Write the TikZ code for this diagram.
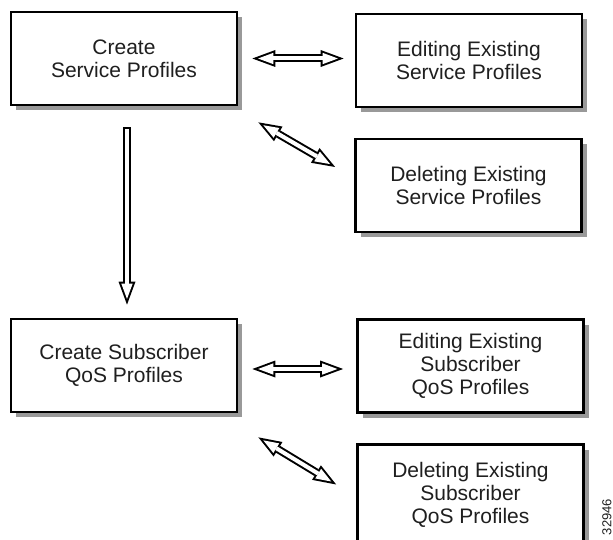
\documentclass[tikz,border=0pt]{standalone}
\usepackage{fontspec}
\setmainfont{Liberation Sans}
\usetikzlibrary{arrows.meta,shadows}
\tikzset{HeadOut/.tip={Triangle[length=23pt,width=17pt,line width=0pt]},
         HeadIn/.tip={Triangle[length=15.2pt,width=11.3pt,line width=0pt]}}
\tikzset{box/.style={draw,line width=2.7pt,minimum width=226pt,minimum height=93pt,
           align=center,fill=white,text=black!88,font=\fontsize{21}{23}\selectfont,
           drop shadow={shadow xshift=5pt,shadow yshift=-5pt,fill=black!40,opacity=1}},
         dblarrow/.style={line width=8pt,HeadOut-HeadOut,
           postaction={draw=white,line width=4pt,shorten <=5.76pt,shorten >=5.76pt,HeadIn-HeadIn}},
         onearrow/.style={line width=8pt,-HeadOut,
           postaction={draw=white,line width=4pt,shorten <=2pt,shorten >=5.76pt,-HeadIn}}}

\begin{document}
\begin{tikzpicture}[x=1pt,y=-1pt]
\useasboundingbox (0,0) rectangle (613,540);
% boxes
\node[box] (cs) at (124,58.5) {Create\\Service Profiles};
\node[box] (es) at (469,60.5) {Editing Existing\\Service Profiles};
\node[box] (ds) at (468.5,185.5) {Deleting Existing\\Service Profiles};
\node[box] (cq) at (124,365.5) {Create Subscriber\\QoS Profiles};
\node[box] (eq) at (470.5,366) {Editing Existing\\Subscriber\\QoS Profiles};
\node[box,minimum height=100pt] (dq) at (470.5,494.5) {Deleting Existing\\Subscriber\\QoS Profiles};
% arrows
\draw[dblarrow]([xshift=14pt]cs.east)--([xshift=-11pt]es.west |- cs.east);
\draw[dblarrow]([shift={(20,16)}]cs.south east)--([shift={(-19,-18.5)}]ds.west);
\draw[onearrow]([shift={(3,21)}]cs.south)--([shift={(3,-13)}]cq.north);
\draw[dblarrow]([shift={(14,3.5)}]cq.east)--([shift={(-13,3)}]eq.west);
\draw[dblarrow]([shift={(20,24)}]cq.south east)--([shift={(-20,-10)}]dq.west);
\node[rotate=90,font=\fontsize{13}{13}\selectfont,text=black!88] (num) at (607,517) {32946};
\end{tikzpicture}
\end{document}
